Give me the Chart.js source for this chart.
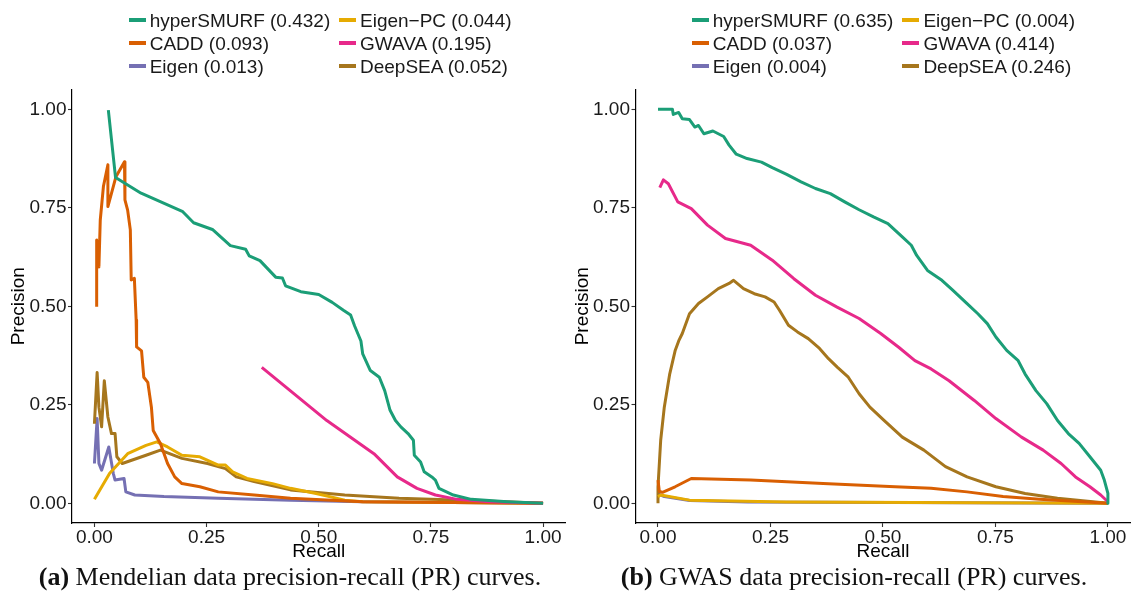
<!DOCTYPE html>
<html><head><meta charset="utf-8">
<script src="https://cdn.jsdelivr.net/npm/chart.js@4.4.0/dist/chart.umd.min.js"></script>
<style>
html,body{margin:0;padding:0;background:#fff;}
body{width:1135px;height:604px;position:relative;overflow:hidden;font-family:"Liberation Sans",Arial,sans-serif;}
canvas{position:absolute;top:0;}
.col{position:absolute;top:8.5px;white-space:nowrap;font-size:19px;color:#1a1a1a;}
.item{height:23px;line-height:23px;display:flex;align-items:center;}
.sw{display:inline-block;width:17px;height:3.5px;margin-right:4px;}
.cap{position:absolute;top:562px;font-family:"Liberation Serif",serif;font-size:26px;line-height:30px;white-space:nowrap;transform:translateX(-50%);color:#111;}
</style></head>
<body>
<canvas id="c1" width="567" height="604" style="left:0"></canvas>
<canvas id="c2" width="568" height="604" style="left:567px"></canvas>
<div id="legends"></div>
<div class="cap" style="left:290px"><b>(a)</b> Mendelian data precision-recall (PR) curves.</div>
<div class="cap" style="left:854px"><b>(b)</b> GWAS data precision-recall (PR) curves.</div>
<script>
// ---- data ----
const methods = ['hyperSMURF', 'CADD', 'Eigen', 'Eigen\u2212PC', 'GWAVA', 'DeepSEA'];
const aucMendelian = ['0.432', '0.093', '0.013', '0.044', '0.195', '0.052'];
const aucGWAS = ['0.635', '0.037', '0.004', '0.004', '0.414', '0.246'];
const axisTicks = [0, 0.25, 0.5, 0.75, 1];
const axisTickLabels = ['0.00', '0.25', '0.50', '0.75', '1.00'];
const xTitle = 'Recall';
const yTitle = 'Precision';

// Mendelian curves: [recall, precision]
const mendHyperSMURF = [[0.031,0.998],[0.047,0.827],[0.104,0.787],[0.197,0.740],[0.221,0.712],[0.263,0.695],[0.303,0.654],[0.337,0.645],[0.345,0.628],[0.369,0.616],[0.404,0.574],[0.419,0.572],[0.426,0.552],[0.46,0.537],[0.50,0.530],[0.53,0.510],[0.555,0.490],[0.571,0.478],[0.58,0.45],[0.594,0.412],[0.598,0.379],[0.615,0.337],[0.635,0.32],[0.647,0.286],[0.659,0.236],[0.671,0.21],[0.683,0.194],[0.699,0.177],[0.711,0.16],[0.713,0.122],[0.727,0.105],[0.735,0.08],[0.752,0.067],[0.76,0.059],[0.768,0.038],[0.8,0.021],[0.84,0.01],[0.92,0.004],[1,0]];
const mendCADD = [[0.005,0.499],[0.005,0.668],[0.01,0.60],[0.013,0.719],[0.02,0.804],[0.03,0.859],[0.03,0.753],[0.048,0.829],[0.067,0.867],[0.068,0.77],[0.074,0.744],[0.08,0.694],[0.082,0.567],[0.089,0.571],[0.093,0.465],[0.094,0.397],[0.105,0.387],[0.11,0.32],[0.119,0.307],[0.127,0.244],[0.131,0.185],[0.147,0.152],[0.163,0.101],[0.179,0.067],[0.195,0.05],[0.235,0.042],[0.276,0.029],[0.356,0.021],[0.437,0.013],[0.598,0.004],[1,0]];
const mendEigen = [[0,0.101],[0.006,0.215],[0.01,0.101],[0.016,0.084],[0.032,0.143],[0.042,0.076],[0.046,0.059],[0.066,0.063],[0.07,0.029],[0.09,0.021],[0.155,0.017],[0.276,0.013],[0.437,0.008],[0.598,0.004],[1,0]];
const mendEigenPC = [[0,0.01],[0.034,0.076],[0.074,0.126],[0.115,0.147],[0.139,0.156],[0.163,0.143],[0.195,0.122],[0.235,0.118],[0.276,0.097],[0.292,0.097],[0.308,0.08],[0.34,0.063],[0.397,0.05],[0.437,0.038],[0.494,0.025],[0.558,0.008],[0.598,0.004],[1,0]];
const mendGWAVA = [[0.373,0.345],[0.518,0.21],[0.623,0.126],[0.675,0.067],[0.719,0.038],[0.76,0.021],[0.808,0.01],[0.88,0.004],[1,0]];
const mendDeepSEA = [[0,0.202],[0.006,0.332],[0.01,0.244],[0.016,0.194],[0.022,0.311],[0.03,0.219],[0.038,0.177],[0.046,0.177],[0.05,0.118],[0.062,0.101],[0.115,0.122],[0.147,0.135],[0.195,0.114],[0.252,0.101],[0.292,0.088],[0.316,0.067],[0.356,0.055],[0.437,0.034],[0.558,0.021],[0.679,0.013],[0.84,0.007],[1,0]];

// GWAS curves: [recall, precision]
const gwasHyperSMURF = [[0,1.0],[0.032,1.0],[0.034,0.987],[0.046,0.992],[0.054,0.976],[0.07,0.974],[0.082,0.955],[0.09,0.959],[0.102,0.938],[0.122,0.945],[0.146,0.931],[0.158,0.909],[0.174,0.886],[0.198,0.875],[0.23,0.866],[0.254,0.852],[0.286,0.835],[0.318,0.816],[0.35,0.799],[0.383,0.786],[0.415,0.765],[0.447,0.745],[0.479,0.727],[0.511,0.71],[0.543,0.676],[0.563,0.655],[0.575,0.629],[0.599,0.591],[0.631,0.566],[0.655,0.541],[0.687,0.507],[0.711,0.481],[0.732,0.456],[0.751,0.422],[0.775,0.388],[0.8,0.363],[0.816,0.328],[0.84,0.286],[0.864,0.253],[0.888,0.21],[0.912,0.177],[0.936,0.152],[0.96,0.118],[0.984,0.084],[0.992,0.059],[1.0,0.025],[1.0,0]];
const gwasCADD = [[0,0.059],[0.003,0.03],[0.01,0.028],[0.038,0.042],[0.074,0.063],[0.206,0.059],[0.367,0.05],[0.527,0.042],[0.607,0.038],[0.687,0.029],[0.767,0.017],[0.848,0.01],[1,0]];
const gwasEigen = [[0,0.024],[0.014,0.017],[0.07,0.007],[0.2,0.003],[1,0]];
const gwasEigenPC = [[0,0.017],[0.006,0.021],[0.07,0.008],[0.286,0.003],[1,0]];
const gwasGWAVA = [[0.004,0.801],[0.012,0.821],[0.023,0.811],[0.044,0.765],[0.074,0.748],[0.11,0.706],[0.15,0.672],[0.206,0.655],[0.254,0.617],[0.302,0.570],[0.35,0.528],[0.398,0.498],[0.447,0.469],[0.495,0.431],[0.535,0.396],[0.571,0.362],[0.607,0.341],[0.647,0.311],[0.703,0.261],[0.751,0.215],[0.808,0.168],[0.856,0.135],[0.896,0.101],[0.928,0.067],[0.96,0.042],[0.984,0.021],[1,0.004]];
const gwasDeepSEA = [[0,0],[0,0.042],[0.006,0.16],[0.014,0.244],[0.026,0.328],[0.038,0.387],[0.046,0.412],[0.054,0.431],[0.07,0.481],[0.09,0.507],[0.11,0.524],[0.134,0.545],[0.158,0.558],[0.168,0.566],[0.19,0.545],[0.214,0.532],[0.238,0.524],[0.258,0.511],[0.27,0.49],[0.29,0.452],[0.31,0.435],[0.334,0.418],[0.359,0.393],[0.379,0.367],[0.399,0.345],[0.423,0.32],[0.447,0.278],[0.471,0.244],[0.503,0.21],[0.543,0.168],[0.591,0.135],[0.639,0.093],[0.687,0.067],[0.751,0.042],[0.816,0.025],[0.888,0.013],[1,0]];

// ---- styles ----
const colors = ['#1B9E77', '#D95F02', '#7570B3', '#E6AB02', '#E7298A', '#A6761D'];
const drawOrder = [0, 4, 1, 3, 5, 2]; // first = on top

const mendSeries = [mendHyperSMURF, mendCADD, mendEigen, mendEigenPC, mendGWAVA, mendDeepSEA];
const gwasSeries = [gwasHyperSMURF, gwasCADD, gwasEigen, gwasEigenPC, gwasGWAVA, gwasDeepSEA];

const FONT = {family: '"Liberation Sans", Arial, sans-serif', size: 19};

function makeChart(id, series, yWidth, padRight, yTitlePad) {
  new Chart(document.getElementById(id), {
    type: 'line',
    data: {
      datasets: drawOrder.map(i => ({
        label: methods[i],
        data: series[i].map(p => ({x: p[0], y: p[1]})),
        borderColor: colors[i],
        backgroundColor: colors[i],
        borderWidth: 3,
        pointRadius: 0,
        tension: 0,
        fill: false,
        borderJoinStyle: 'round',
        borderCapStyle: 'butt'
      }))
    },
    options: {
      responsive: false,
      animation: false,
      events: [],
      layout: {padding: {top: 89.6, bottom: 0, left: 0, right: padRight}},
      plugins: {legend: {display: false}, tooltip: {enabled: false}},
      scales: {
        x: {
          type: 'linear', min: -0.05, max: 1.05,
          afterBuildTicks: s => { s.ticks = axisTicks.map(v => ({value: v})); },
          afterFit: s => { s.height = 81; },
          ticks: {callback: v => axisTickLabels[axisTicks.indexOf(v)], font: {...FONT, lineHeight: 1}, color: '#1a1a1a', padding: 1, maxRotation: 0, autoSkip: false},
          grid: {drawOnChartArea: false, tickLength: 4, tickColor: '#333', tickWidth: 1.1},
          border: {color: '#000', width: 1.2},
          title: {display: true, text: xTitle, font: FONT, color: '#000', padding: {top: 0, bottom: 40.9}}
        },
        y: {
          type: 'linear', min: -0.05, max: 1.05,
          afterBuildTicks: s => { s.ticks = axisTicks.map(v => ({value: v})); },
          afterFit: s => { s.width = yWidth; },
          ticks: {callback: v => axisTickLabels[axisTicks.indexOf(v)], font: FONT, color: '#1a1a1a', padding: 1.5, autoSkip: false},
          grid: {drawOnChartArea: false, tickLength: 4, tickColor: '#333', tickWidth: 1.1},
          border: {color: '#000', width: 1.2},
          title: {display: true, text: yTitle, font: FONT, color: '#000', padding: {top: yTitlePad, bottom: 0}}
        }
      }
    }
  });
}

makeChart('c1', mendSeries, 72, 1.5, 7.4);
makeChart('c2', gwasSeries, 68.5, 4.6, 4.2);

// ---- legends (two columns, three rows) ----
function buildLegend(aucs, col1Left, col2Left) {
  const wrap = document.getElementById('legends');
  [[0, 1, 2], [3, 4, 5]].forEach((idxs, c) => {
    const col = document.createElement('div');
    col.className = 'col';
    col.style.left = (c === 0 ? col1Left : col2Left) + 'px';
    idxs.forEach(i => {
      const it = document.createElement('div');
      it.className = 'item';
      const sw = document.createElement('span');
      sw.className = 'sw';
      sw.style.background = colors[i];
      const tx = document.createElement('span');
      tx.textContent = methods[i] + ' (' + aucs[i] + ')';
      it.appendChild(sw); it.appendChild(tx);
      col.appendChild(it);
    });
    wrap.appendChild(col);
  });
}
buildLegend(aucMendelian, 128.7, 339);
buildLegend(aucGWAS, 691.8, 902.4);
</script>
</body></html>
